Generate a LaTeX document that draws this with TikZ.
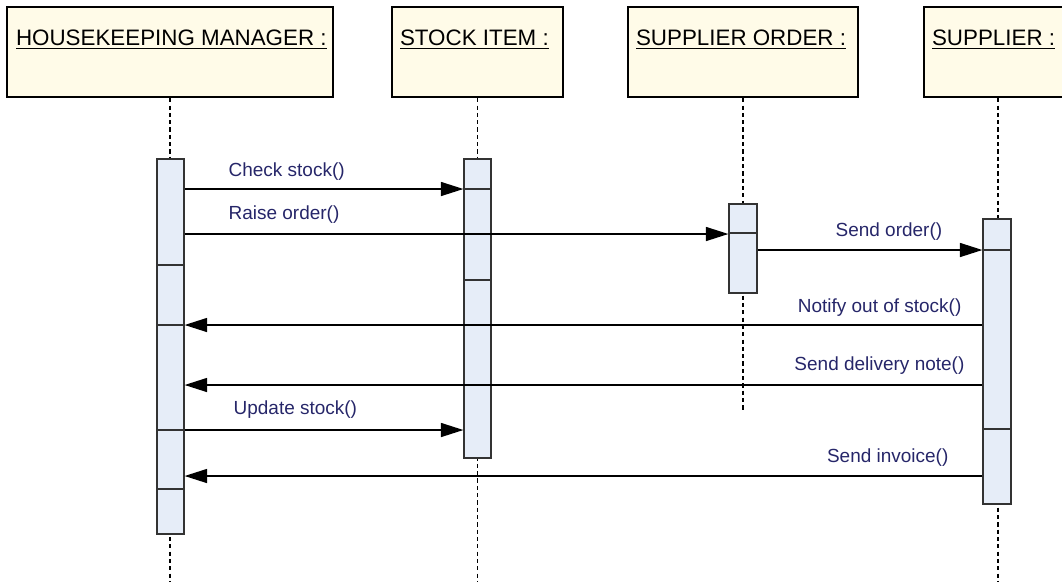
\documentclass[tikz,border=0pt]{standalone}
\usepackage{fontspec}
\setmainfont{Liberation Sans}
\usetikzlibrary{arrows.meta, fit}

\definecolor{headcream}{RGB}{255,251,232}
\definecolor{actblue}{RGB}{230,237,248}
\definecolor{msgnavy}{RGB}{38,38,105}

\tikzset{
  headbox/.style={draw=black, line width=1.7pt, fill=headcream, minimum height=2.25cm, inner sep=0},
  headtitle/.style={anchor=base west, inner sep=0, font=\fontsize{15.9}{18}\selectfont},
  lifeline/.style={line width=0.9pt, dash pattern=on 3pt off 2.2pt},
  actbox/.style={draw=black!80, line width=0.9pt, fill=actblue, inner sep=0},
  divider/.style={draw=black!80, line width=0.9pt},
  msg/.style={line width=0.9pt, -{Triangle[length=16pt, width=10pt]}},
  msglabel/.style={inner sep=0, text=msgnavy, font=\fontsize{13.5}{16}\selectfont}
}

\begin{document}
\begin{tikzpicture}[x=0.025cm, y=-0.025cm]
  \clip (0,0) rectangle (1062,581);

  % objects
  \node[headbox, minimum width=8.15cm] (hm) at (170,52) {};
  \node[headbox, minimum width=4.275cm] (stock) at (477.5,52) {};
  \node[headbox, minimum width=5.75cm] (order) at (743,52) {};
  \node[headbox, minimum width=3.7cm] (supp) at (998,52) {};

  \node[headtitle] (hmtitle) at ([shift={(10,40)}]hm.north west) {\underline{HOUSEKEEPING MANAGER :}};
  \node[headtitle] (stocktitle) at ([shift={(9,40)}]stock.north west) {\underline{STOCK ITEM :}};
  \node[headtitle] (ordertitle) at ([shift={(9,40)}]order.north west) {\underline{SUPPLIER ORDER :}};
  \node[headtitle] (supptitle) at ([shift={(9,40)}]supp.north west) {\underline{SUPPLIER :}};

  % lifelines
  \draw[lifeline] (hm.south) -- (hm.south |- 0,581);
  \draw[lifeline] (stock.south) -- (stock.south |- 0,581);
  \draw[lifeline] (order.south) -- (order.south |- 0,410);
  \draw[lifeline] (supp.south) -- (supp.south |- 0,581);

  % activations
  \node[actbox, fit={(157,159) (184,534)}] (hmact) {};
  \node[actbox, fit={(464,159) (491,458)}] (stact) {};
  \node[actbox, fit={(729,204) (757,293)}] (ordact) {};
  \node[actbox, fit={(983,219) (1011,504)}] (suppact) {};

  \foreach \y in {265,325,430,489}
    \draw[divider] (hmact.west |- 0,\y) -- (hmact.east |- 0,\y);
  \foreach \y in {189,280}
    \draw[divider] (stact.west |- 0,\y) -- (stact.east |- 0,\y);
  \draw[divider] (ordact.west |- 0,233) -- (ordact.east |- 0,233);
  \foreach \y in {250,429}
    \draw[divider] (suppact.west |- 0,\y) -- (suppact.east |- 0,\y);

  % messages
  \draw[msg] (hmact.east |- 0,189) -- (stact.west |- 0,189)
    node[msglabel, anchor=base west] at (228,176) {Check stock()};
  \draw[msg] (hmact.east |- 0,234) -- (ordact.west |- 0,234)
    node[msglabel, anchor=base west] at (228,219) {Raise order()};
  \draw[msg] (ordact.east |- 0,250) -- (suppact.west |- 0,250)
    node[msglabel, anchor=base west] at (835,236) {Send order()};
  \draw[msg] (suppact.west |- 0,325) -- (hmact.east |- 0,325)
    node[msglabel, anchor=base east] at (962,312) {Notify out of stock()};
  \draw[msg] (suppact.west |- 0,385) -- (hmact.east |- 0,385)
    node[msglabel, anchor=base east] at (965,370) {Send delivery note()};
  \draw[msg] (hmact.east |- 0,430) -- (stact.west |- 0,430)
    node[msglabel, anchor=base west] at (233,414) {Update stock()};
  \draw[msg] (suppact.west |- 0,476) -- (hmact.east |- 0,476)
    node[msglabel, anchor=base east] at (949,462) {Send invoice()};
\end{tikzpicture}
\end{document}
